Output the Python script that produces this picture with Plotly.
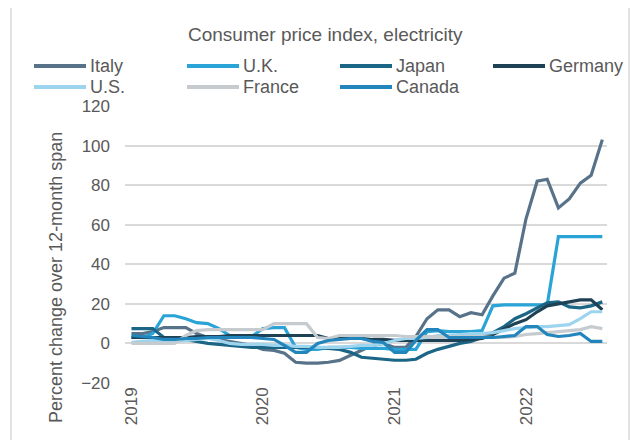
import pandas as pd
import plotly.graph_objects as go

months = pd.date_range("2019-01-01", "2022-08-01", freq="MS")

italy = [5, 5, 6, 8, 8, 8, 5, 3, 2, 1, 0, -1,
         -3, -3.5, -5, -9.5, -10, -10, -9.5, -8.6, -6, -3.5, -1, 0,
         -2, -2, 3.5, 12.5, 17, 17, 13.5, 15.5, 14.5, 24, 33, 35.5,
         63, 82, 83, 68.5, 73, 81, 85, 103]
uk = [3, 3, 5, 14, 14, 12.5, 10.5, 10, 7.5, 4, 3.5, 3.5,
      7.5, 8, 8, -2, -3, -3, -2, -2, -2, -2.5, -2.5, -2.5,
      -3, -3, -3, 6, 6.5, 6, 6, 6, 6.5, 19, 19.5, 19.5,
      19.5, 19.5, 19.5, 54, 54, 54, 54, 54]
japan = [7.5, 7.5, 7.5, 3, 2.5, 2, 1, 0, -0.5, -1, -1.5, -2,
         -2, -2, -2, -2, -2, -2, -2.5, -3, -4.5, -7, -7.5, -8,
         -8.5, -8.5, -8, -5, -3, -1.5, 0, 1, 3, 5.5, 8.5, 12.5,
         15, 18, 20.5, 21, 18.5, 18, 19, 21]
germany = [3, 3, 3, 3, 3, 3, 3.5, 3.5, 3.5, 4, 4, 4,
           4, 4, 4, 4, 4, 4, 2.5, 2.5, 2.5, 2.5, 2, 2,
           1.5, 1.5, 1.5, 1.5, 1.5, 1.5, 1.5, 2, 2.5, 4.5, 7.5, 10,
           12, 16, 19, 20, 21, 22, 22, 17]
us = [0.5, 1, 1.5, 1.5, 1, 1.5, 2, 2.5, 1.5, 0, -0.5, -0.5,
      -0.5, -1, -1, -1.5, -1.5, -2, -2, -2, -1.5, -1, -1, 0,
      1.5, 2.5, 2.5, 3, 4, 4, 4.5, 5, 5, 5.5, 6.5, 7.5,
      8, 8.5, 8.5, 9, 9.5, 12.5, 16, 16]
france = [0, 0, 0, 0, 0, 4, 6.5, 7, 7, 7, 7, 7,
          7, 10, 10, 10, 10, 3, 2.5, 4, 4, 4, 4, 4,
          4, 3.5, 3.5, 3.5, 3.5, 3.5, 3.5, 3.5, 3.5, 3, 3, 3.5,
          4.5, 5, 5.5, 6, 6.5, 7, 8.5, 7.5]
canada = [4, 3.5, 3, 2, 2, 2.5, 2.5, 3, 3, 3, 3, 3,
          2.5, 2, -1, -4.5, -4.5, 0, 1.5, 2, 2.5, 2.5, 1, 0.5,
          -4.5, -4.5, 1.5, 7, 7, 3, 3, 3, 3, 3, 3.5, 4,
          8.5, 8.5, 4.5, 3.5, 4, 5, 1, 1]

names = ["Italy", "U.K.", "Japan", "Germany", "U.S.", "France", "Canada"]
series = [italy, uk, japan, germany, us, france, canada]
colors = ["#587389", "#2aa3d6", "#1b6586", "#1f4155", "#9dd4ee", "#c6cbd0", "#2285bc"]

year_ticks = ["2019-01-01", "2020-01-01", "2021-01-01", "2022-01-01"]
year_labels = ["2019", "2020", "2021", "2022"]
y_ticks = [-20, 0, 20, 40, 60, 80, 100, 120]

FONT = "Liberation Sans, Arial, sans-serif"
GREY = "#595959"

# page body has an 8px margin: build the figure 8px smaller and shift everything
OFF = 8
W, H = 639 - OFF, 440 - OFF

fig = go.Figure()
for name, vals, col in zip(names, series, colors):
    fig.add_trace(go.Scatter(x=months, y=vals, mode="lines", name=name,
                             line=dict(color=col, width=3.2), showlegend=False))

# plot area in window pixels: x 125..607, y 106..383
L, R, T, B = 125 - OFF, 607 - OFF, 106 - OFF, 383 - OFF
def px(x):
    return (x - OFF - L) / (R - L)
def py(y):
    return (B - (y - OFF)) / (B - T)

shapes = []
annotations = []
# outer frame
shapes.append(dict(type="rect", xref="paper", yref="paper",
                   x0=px(11), x1=px(629), y0=py(460), y1=py(5),
                   line=dict(color="#d9d9d9", width=1.5), layer="below"))
# custom legend
col_x = [34, 187, 340, 493]
row_y = [66, 87]
for i, (name, col) in enumerate(zip(names, colors)):
    cx = col_x[i % 4]
    ry = row_y[i // 4]
    shapes.append(dict(type="line", xref="paper", yref="paper",
                       x0=px(cx), x1=px(cx + 52), y0=py(ry), y1=py(ry),
                       line=dict(color=col, width=4)))
    annotations.append(dict(text=name, xref="paper", yref="paper",
                            x=px(cx + 54), y=py(ry), xanchor="left", yanchor="middle",
                            showarrow=False, font=dict(family=FONT, size=18, color=GREY)))
# subtitle
annotations.append(dict(text="Consumer price index, electricity", xref="paper", yref="paper",
                        x=px(325), y=py(35), xanchor="center", yanchor="middle",
                        showarrow=False, font=dict(family=FONT, size=19, color=GREY)))
# y-axis title
annotations.append(dict(text="Percent change over 12-month span", xref="paper", yref="paper",
                        x=px(56), y=py(278), xanchor="center", yanchor="middle",
                        textangle=-90, showarrow=False,
                        font=dict(family=FONT, size=18, color=GREY)))

fig.update_layout(
    width=W, height=H,
    margin=dict(l=L, r=W - R, t=T, b=H - B, autoexpand=False),
    paper_bgcolor="white", plot_bgcolor="white",
    shapes=shapes, annotations=annotations,
    font=dict(family=FONT, color=GREY),
)
fig.update_xaxes(type="date", range=["2018-12-14", "2022-08-14"],
                 tickvals=year_ticks, ticktext=year_labels, tickangle=-90,
                 showgrid=False, zeroline=False, showline=False, automargin=False,
                 tickfont=dict(family=FONT, size=17, color=GREY))
fig.update_yaxes(range=[-20, 120], tickvals=y_ticks, showgrid=True,
                 gridcolor="#d9d9d9", gridwidth=1.5, zeroline=False, showline=False,
                 ticklabelstandoff=14, automargin=False,
                 tickfont=dict(family=FONT, size=17, color=GREY))

fig.write_html("out.html")
